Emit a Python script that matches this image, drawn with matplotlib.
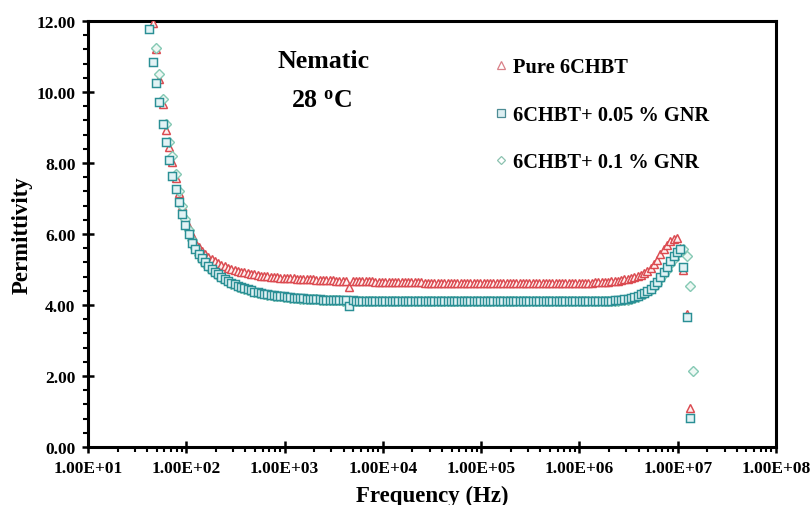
import numpy as np
import matplotlib
matplotlib.use('Agg')
import matplotlib.pyplot as plt
from matplotlib.ticker import FixedLocator, MultipleLocator, LogLocator, FuncFormatter, NullFormatter
from matplotlib.lines import Line2D

nan = np.nan

# Frequency sweep (Hz)
freq_hz = [
    4.22e1, 4.55e1, 4.92e1, 5.31e1, 5.73e1, 6.19e1, 6.68e1, 7.22e1, 7.79e1, 8.41e1,
    9.09e1, 9.81e1, 1.059e2, 1.144e2, 1.235e2, 1.334e2, 1.440e2, 1.555e2, 1.679e2, 1.813e2,
    1.957e2, 2.113e2, 2.282e2, 2.464e2, 2.661e2, 2.873e2, 3.102e2, 3.350e2, 3.617e2, 3.905e2,
    4.22e2, 4.55e2, 4.92e2, 5.31e2, 5.73e2, 6.19e2, 6.68e2, 7.22e2, 7.79e2, 8.41e2,
    9.09e2, 9.81e2, 1.059e3, 1.144e3, 1.235e3, 1.334e3, 1.440e3, 1.555e3, 1.679e3, 1.813e3,
    1.957e3, 2.113e3, 2.282e3, 2.464e3, 2.661e3, 2.873e3, 3.102e3, 3.350e3, 3.617e3, 3.905e3,
    4.22e3, 4.55e3, 4.92e3, 5.31e3, 5.73e3, 6.19e3, 6.68e3, 7.22e3, 7.79e3, 8.41e3,
    9.09e3, 9.81e3, 1.059e4, 1.144e4, 1.235e4, 1.334e4, 1.440e4, 1.555e4, 1.679e4, 1.813e4,
    1.957e4, 2.113e4, 2.282e4, 2.464e4, 2.661e4, 2.873e4, 3.102e4, 3.350e4, 3.617e4, 3.905e4,
    4.22e4, 4.55e4, 4.92e4, 5.31e4, 5.73e4, 6.19e4, 6.68e4, 7.22e4, 7.79e4, 8.41e4,
    9.09e4, 9.81e4, 1.059e5, 1.144e5, 1.235e5, 1.334e5, 1.440e5, 1.555e5, 1.679e5, 1.813e5,
    1.957e5, 2.113e5, 2.282e5, 2.464e5, 2.661e5, 2.873e5, 3.102e5, 3.350e5, 3.617e5, 3.905e5,
    4.22e5, 4.55e5, 4.92e5, 5.31e5, 5.73e5, 6.19e5, 6.68e5, 7.22e5, 7.79e5, 8.41e5,
    9.09e5, 9.81e5, 1.059e6, 1.144e6, 1.235e6, 1.334e6, 1.440e6, 1.555e6, 1.679e6, 1.813e6,
    1.957e6, 2.113e6, 2.282e6, 2.464e6, 2.661e6, 2.873e6, 3.102e6, 3.350e6, 3.617e6, 3.905e6,
    4.22e6, 4.55e6, 4.92e6, 5.31e6, 5.73e6, 6.19e6, 6.68e6, 7.22e6, 7.79e6, 8.41e6,
    9.09e6, 9.81e6, 1.059e7, 1.144e7, 1.235e7, 1.334e7, 1.440e7,
]

# Permittivity – Pure 6CHBT
pure_6chbt = [
    nan, 11.95, 11.20, 10.38, 9.65, 8.94, 8.46, 8.03, 7.58, 7.15,
    6.79, 6.47, 6.20, 5.96, 5.78, 5.64, 5.53, 5.44, 5.36, 5.30,
    5.24, 5.18, 5.13, 5.09, 5.05, 5.02, 4.99, 4.96, 4.94, 4.92,
    4.90, 4.88, 4.86, 4.85, 4.83, 4.82, 4.81, 4.80, 4.79, 4.78,
    4.77, 4.76, 4.76, 4.75, 4.75, 4.74, 4.74, 4.73, 4.73, 4.72,
    4.72, 4.71, 4.71, 4.71, 4.70, 4.70, 4.70, 4.69, 4.69, 4.69,
    4.69, 4.50, 4.68, 4.68, 4.68, 4.67, 4.67, 4.67, 4.67, 4.66,
    4.66, 4.66, 4.66, 4.65, 4.65, 4.65, 4.65, 4.65, 4.64, 4.64,
    4.64, 4.64, 4.64, 4.64, 4.63, 4.63, 4.63, 4.63, 4.63, 4.63,
    4.63, 4.63, 4.62, 4.63, 4.63, 4.63, 4.63, 4.62, 4.63, 4.63,
    4.63, 4.62, 4.63, 4.63, 4.63, 4.62, 4.63, 4.63, 4.63, 4.63,
    4.62, 4.63, 4.63, 4.63, 4.62, 4.63, 4.63, 4.62, 4.63, 4.63,
    4.62, 4.62, 4.62, 4.63, 4.62, 4.62, 4.62, 4.62, 4.62, 4.62,
    4.62, 4.62, 4.62, 4.63, 4.63, 4.63, 4.64, 4.64, 4.65, 4.65,
    4.66, 4.67, 4.68, 4.69, 4.70, 4.72, 4.74, 4.76, 4.78, 4.81,
    4.84, 4.90, 4.95, 5.03, 5.15, 5.28, 5.43, 5.58, 5.70, 5.79,
    5.86, 5.88, 5.62, 5.00, 3.75, 1.10, nan,
]

# Permittivity – 6CHBT + 0.05 % GNR
gnr_005 = [
    11.77, 10.84, 10.25, 9.73, 9.10, 8.58, 8.08, 7.63, 7.26, 6.89,
    6.55, 6.26, 6.01, 5.75, 5.58, 5.44, 5.32, 5.21, 5.11, 5.02,
    4.94, 4.87, 4.80, 4.74, 4.68, 4.63, 4.58, 4.54, 4.50, 4.47,
    4.44, 4.41, 4.38, 4.36, 4.34, 4.32, 4.30, 4.28, 4.27, 4.26,
    4.25, 4.24, 4.23, 4.22, 4.21, 4.20, 4.19, 4.19, 4.18, 4.17,
    4.17, 4.16, 4.16, 4.15, 4.15, 4.14, 4.14, 4.14, 4.13, 4.13,
    4.13, 3.97, 4.13, 4.12, 4.12, 4.12, 4.12, 4.11, 4.11, 4.11,
    4.11, 4.11, 4.11, 4.11, 4.10, 4.10, 4.10, 4.10, 4.10, 4.10,
    4.10, 4.10, 4.11, 4.10, 4.10, 4.10, 4.10, 4.11, 4.10, 4.10,
    4.10, 4.10, 4.10, 4.10, 4.11, 4.10, 4.10, 4.10, 4.10, 4.10,
    4.10, 4.11, 4.10, 4.10, 4.10, 4.10, 4.10, 4.10, 4.11, 4.10,
    4.10, 4.10, 4.10, 4.10, 4.10, 4.11, 4.10, 4.10, 4.10, 4.10,
    4.10, 4.10, 4.10, 4.11, 4.10, 4.10, 4.10, 4.10, 4.11, 4.10,
    4.10, 4.10, 4.11, 4.11, 4.11, 4.11, 4.11, 4.11, 4.11, 4.11,
    4.12, 4.12, 4.13, 4.14, 4.15, 4.16, 4.18, 4.20, 4.22, 4.26,
    4.30, 4.35, 4.40, 4.46, 4.55, 4.66, 4.79, 4.93, 5.08, 5.24,
    5.38, 5.50, 5.57, 5.07, 3.67, 0.82, nan,
]

# Permittivity – 6CHBT + 0.1 % GNR
gnr_01 = [
    nan, nan, 11.25, 10.50, 9.80, 9.10, 8.60, 8.20, 7.70, 7.20,
    6.78, 6.42, 6.10, 5.83, 5.60, 5.42, 5.28, 5.16, 5.06, 4.97,
    4.89, 4.82, 4.76, 4.70, 4.65, 4.60, 4.56, 4.52, 4.48, 4.45,
    4.42, 4.40, 4.37, 4.35, 4.33, 4.31, 4.29, 4.27, 4.26, 4.25,
    4.24, 4.23, 4.22, 4.21, 4.20, 4.19, 4.18, 4.18, 4.17, 4.17,
    4.16, 4.16, 4.15, 4.15, 4.14, 4.14, 4.13, 4.13, 4.13, 4.12,
    4.12, 4.12, 4.12, 4.12, 4.11, 4.11, 4.11, 4.11, 4.11, 4.11,
    4.11, 4.10, 4.11, 4.10, 4.10, 4.11, 4.10, 4.10, 4.10, 4.10,
    4.11, 4.10, 4.10, 4.10, 4.10, 4.10, 4.11, 4.10, 4.10, 4.10,
    4.10, 4.10, 4.11, 4.10, 4.10, 4.10, 4.10, 4.10, 4.11, 4.10,
    4.10, 4.10, 4.10, 4.10, 4.11, 4.10, 4.10, 4.10, 4.10, 4.10,
    4.11, 4.10, 4.10, 4.10, 4.10, 4.10, 4.11, 4.10, 4.10, 4.10,
    4.10, 4.10, 4.11, 4.10, 4.10, 4.10, 4.10, 4.11, 4.10, 4.10,
    4.10, 4.10, 4.10, 4.11, 4.10, 4.11, 4.11, 4.11, 4.11, 4.11,
    4.11, 4.11, 4.12, 4.12, 4.13, 4.14, 4.15, 4.17, 4.19, 4.22,
    4.27, 4.31, 4.36, 4.42, 4.50, 4.60, 4.72, 4.86, 5.00, 5.16,
    5.31, 5.44, 5.54, 5.58, 5.38, 4.53, 2.15,
]

series_labels = ["Pure 6CHBT", "6CHBT+ 0.05 % GNR", "6CHBT+ 0.1 % GNR"]
x_ticks = [1e1, 1e2, 1e3, 1e4, 1e5, 1e6, 1e7, 1e8]
y_ticks = [0, 2, 4, 6, 8, 10, 12]

assert len(freq_hz) == len(pure_6chbt) == len(gnr_005) == len(gnr_01)

plt.rcParams['font.family'] = ['Liberation Serif', 'DejaVu Serif']
plt.rcParams['font.weight'] = 'bold'
plt.rcParams['mathtext.fontset'] = 'custom'
plt.rcParams['mathtext.rm'] = 'Liberation Serif:bold'
plt.rcParams['mathtext.bf'] = 'Liberation Serif:bold'
plt.rcParams['mathtext.it'] = 'Liberation Serif:italic:bold'

fig = plt.figure(figsize=(8.11, 5.06), dpi=100)
ax = fig.add_axes([0.1085, 0.1146, 0.8483, 0.8419])

red = '#DB4A50'
teal = '#2A8F95'
mint = '#86C9B4'

h_pure, = ax.plot(freq_hz, pure_6chbt, linestyle='none', marker='^', ms=6.2,
                  mfc='#FFF0F0', mec=red, mew=1.05, zorder=3)
h_01, = ax.plot(freq_hz, gnr_01, linestyle='none', marker='D', ms=4.6,
                mfc='#EEF8F4', mec=mint, mew=1.0, zorder=3)
h_005, = ax.plot(freq_hz, gnr_005, linestyle='none', marker='s', ms=5.6,
                 mfc='#E2F3F5', mec=teal, mew=1.05, zorder=4)

ax.set_xscale('log')
ax.set_xlim(1e1, 1e8)
ax.set_ylim(0, 12)
ax.xaxis.set_major_locator(FixedLocator(x_ticks))
ax.xaxis.set_major_formatter(FuncFormatter(lambda v, p: f"{v:.2E}"))
ax.xaxis.set_minor_locator(LogLocator(base=10, subs=np.arange(2, 10), numticks=100))
ax.xaxis.set_minor_formatter(NullFormatter())
ax.yaxis.set_major_locator(FixedLocator(y_ticks))
ax.yaxis.set_major_formatter(FuncFormatter(lambda v, p: f"{v:.2f}"))
ax.yaxis.set_minor_locator(MultipleLocator(0.4))

for s in ax.spines.values():
    s.set_linewidth(2.2)
ax.tick_params(which='major', direction='inout', length=8, width=1.8, labelsize=12.5, pad=5)
ax.tick_params(which='minor', direction='out', length=3.5, width=1.5)
ax.tick_params(axis='y', which='major', pad=5)

ax.set_xlabel('Frequency (Hz)', fontsize=16.5, fontweight='bold', labelpad=7)
ax.set_ylabel('Permittivity', fontsize=16.5, fontweight='bold', labelpad=3)

ax.text(0.343, 0.908, 'Nematic', transform=ax.transAxes, ha='center', va='center',
        fontsize=18.6, fontweight='bold')
ax.text(0.340, 0.815, r'28 $^{\mathrm{o}}$C', transform=ax.transAxes, ha='center', va='center',
        fontsize=18.6, fontweight='bold')

leg_handles = [
    Line2D([], [], linestyle='none', marker='^', ms=5.5, mfc='white', mec='#D98088', mew=0.9),
    Line2D([], [], linestyle='none', marker='s', ms=5.5, mfc='#DDEFF2', mec='#4C8C94', mew=0.9),
    Line2D([], [], linestyle='none', marker='D', ms=4.2, mfc='white', mec='#8CC2B0', mew=0.9),
]
ax.legend(leg_handles, series_labels, loc='upper left', bbox_to_anchor=(0.593, 0.915),
          frameon=False, prop={'weight': 'bold', 'size': 14.7},
          handlelength=0.5, handletextpad=0.35, labelspacing=1.35,
          borderaxespad=0, borderpad=0)

fig.savefig('out.png', dpi=100)
